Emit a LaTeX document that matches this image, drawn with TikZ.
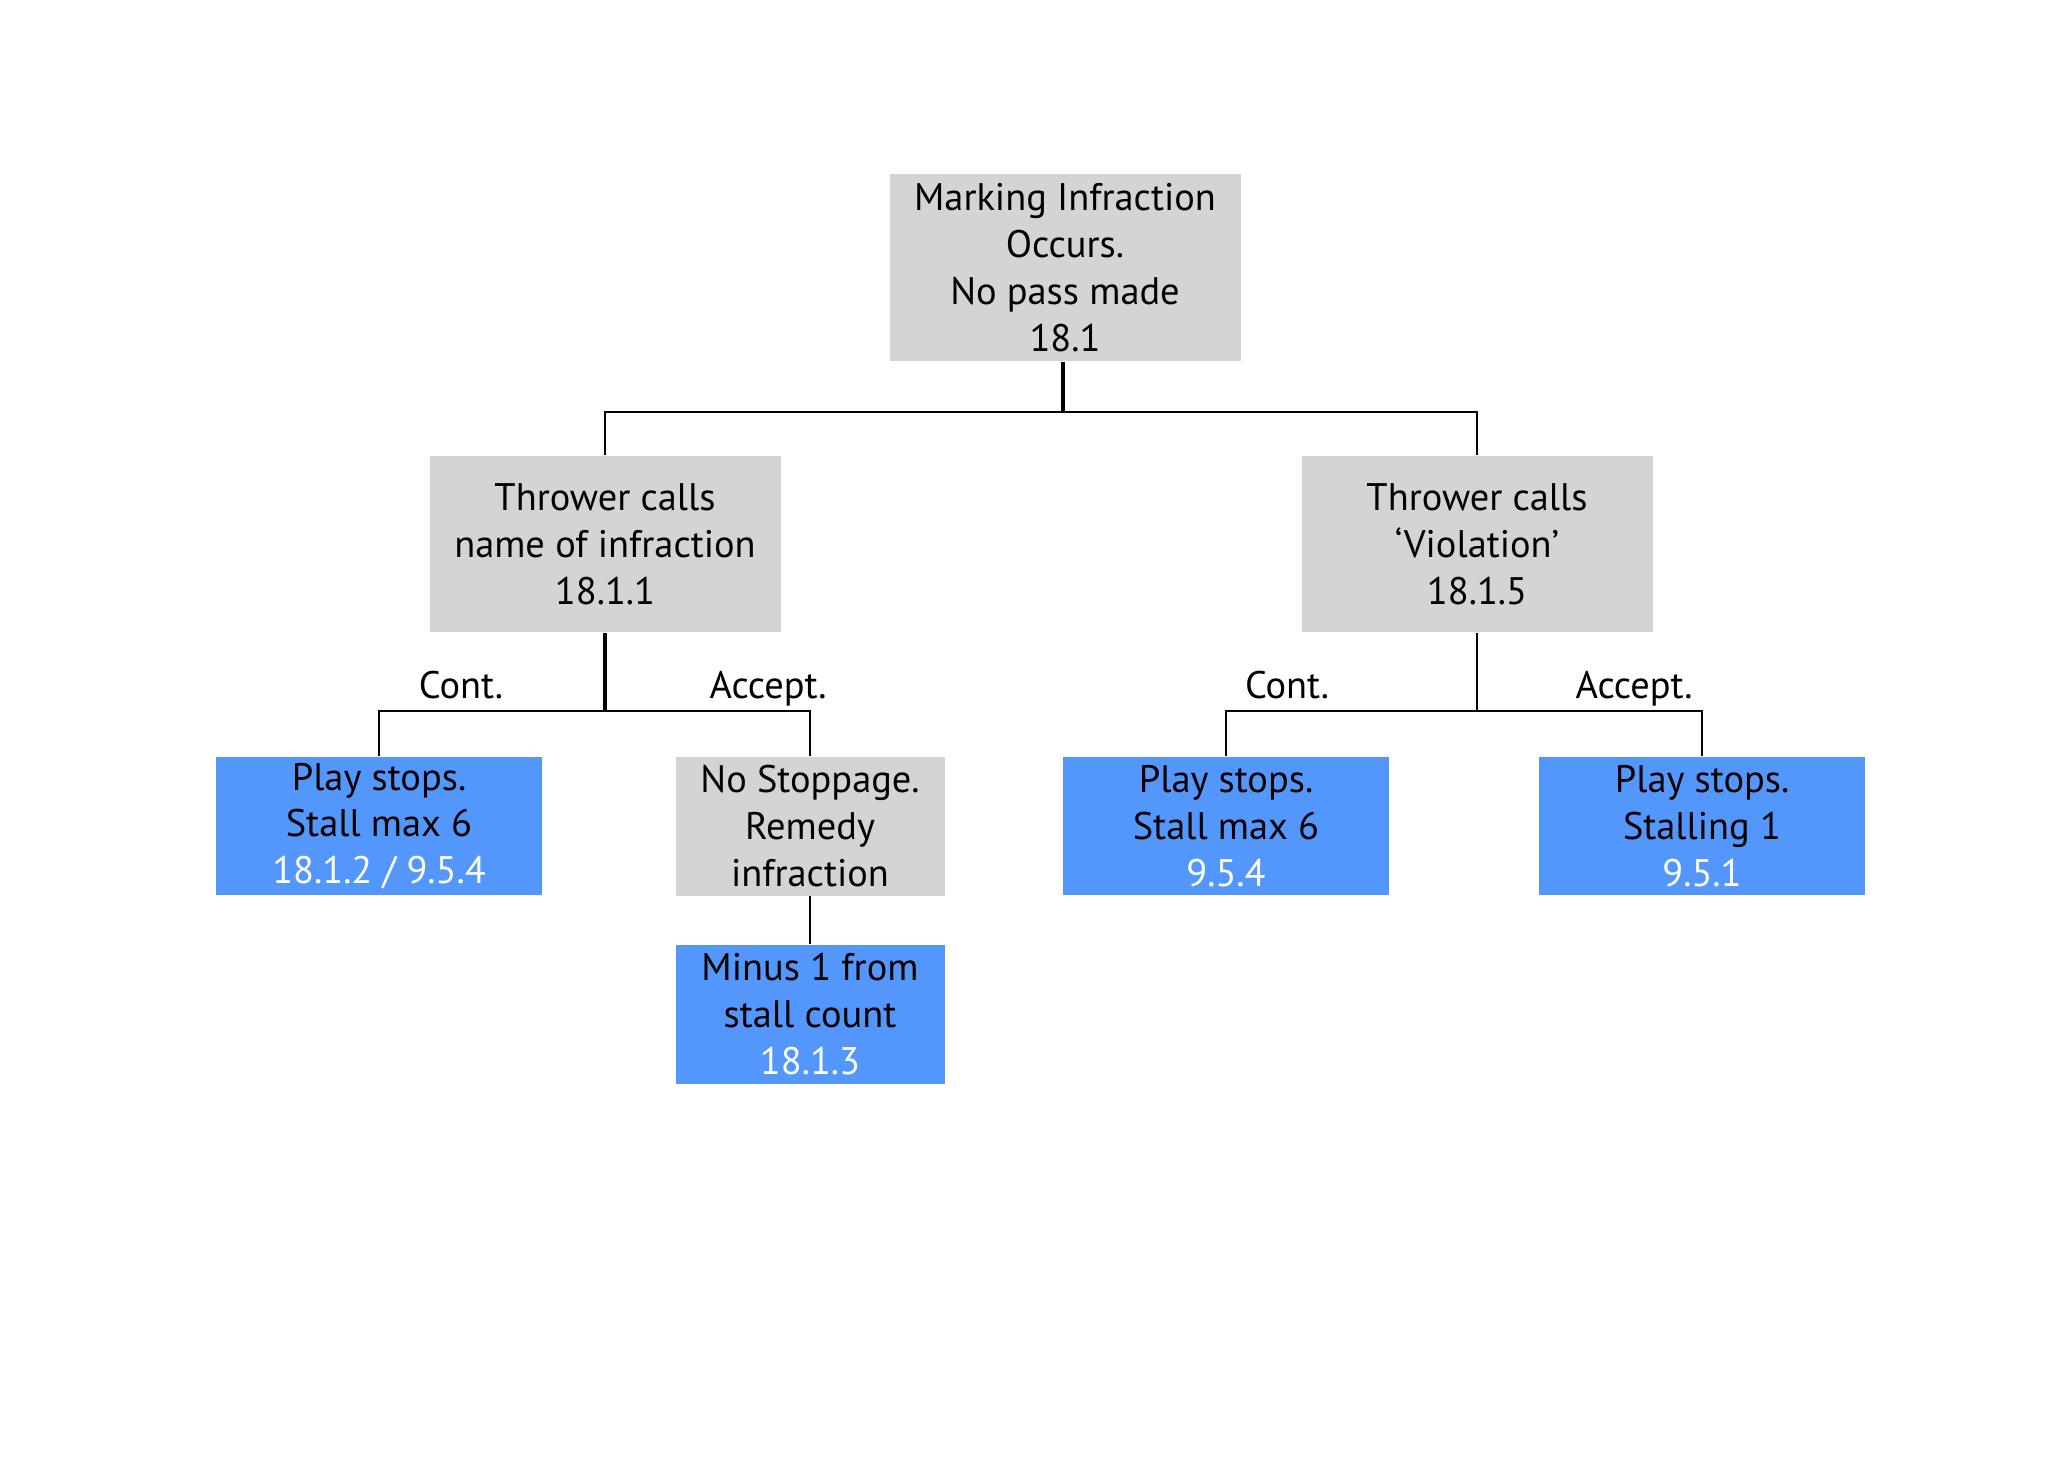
\documentclass[tikz,border=0pt]{standalone}
\usepackage{fontspec}
\setmainfont{PT Sans}
\definecolor{boxgray}{RGB}{212,212,212}
\definecolor{boxblue}{RGB}{84,151,252}
\begin{document}
\begin{tikzpicture}[x=0.25pt,y=-0.25pt,
  every node/.style={font=\fontsize{9.6}{11.7}\selectfont, align=center, inner sep=0pt},
  graybox/.style={fill=boxgray, minimum width=#1},
  bluebox/.style={fill=boxblue, minimum width=#1},
  link/.style={line width=0.5pt, black},
  trunk/.style={line width=0.85pt, black},
  lbl/.style={font=\fontsize{9.6}{11.7}\selectfont, anchor=base}]
\useasboundingbox (0,0) rectangle (2066,1476);
\fill[white] (0,0) rectangle (2066,1476);

\node[graybox=87.75pt, minimum height=46.75pt] (top) at (1065,267.5)
  {Marking Infraction\\Occurs.\\No pass made\\18.1};

\node[graybox=87.75pt, minimum height=44pt] (lmid) at (605,544)
  {Thrower calls\\name of infraction\\18.1.1};
\node[graybox=87.75pt, minimum height=44pt] (rmid) at (1477,544)
  {Thrower calls\\‘Violation’\\18.1.5};

\node[bluebox=81.5pt, minimum height=34.5pt] (b1) at (379,826)
  {Play stops.\\Stall max 6\\\textcolor{white}{18.1.2 / 9.5.4}};
\node[graybox=67.25pt, minimum height=34.75pt] (b2) at (810,826)
  {No Stoppage.\\Remedy\\infraction};
\node[bluebox=81.5pt, minimum height=34.5pt] (b3) at (1226,826)
  {Play stops.\\Stall max 6\\\textcolor{white}{9.5.4}};
\node[bluebox=81.5pt, minimum height=34.5pt] (b4) at (1702,826)
  {Play stops.\\Stalling 1\\\textcolor{white}{9.5.1}};
\node[bluebox=67.25pt, minimum height=34.75pt] (b5) at (810,1014)
  {Minus 1 from\\stall count\\\textcolor{white}{18.1.3}};

\node[lbl] (lc) at (461,698) {Cont.};
\node[lbl] (la) at (768,698) {Accept.};
\node[lbl] (rc) at (1287,698) {Cont.};
\node[lbl] (ra) at (1634,698) {Accept.};

\coordinate (j1) at (1063,412);
\coordinate (j2) at (605,711);
\coordinate (j3) at (1477,711);

\draw[trunk] (top.south -| j1) -- (j1);
\draw[link] (lmid.north) |- (j1) -| (rmid.north);
\draw[trunk] (lmid.south) -- (j2);
\draw[link] (b1.north) |- (j2) -| (b2.north);
\draw[link] (rmid.south) -- (j3);
\draw[link] (b3.north) |- (j3) -| (b4.north);
\draw[link] (b2.south) -- (b5.north);
\end{tikzpicture}
\end{document}
